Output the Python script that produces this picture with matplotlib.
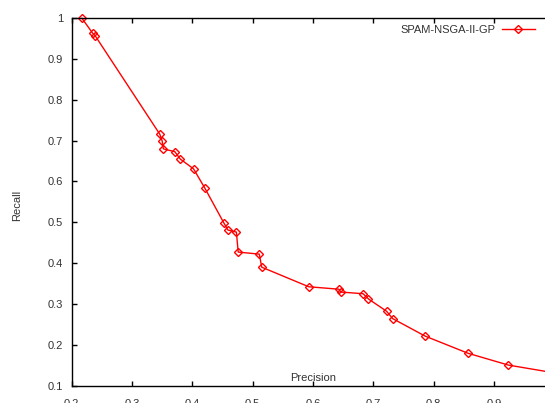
import matplotlib
matplotlib.use('Agg')
import matplotlib.pyplot as plt
from matplotlib.ticker import FormatStrFormatter, MultipleLocator

plt.rcParams['font.family'] = ['Liberation Sans', 'DejaVu Sans']

# Precision / Recall
precision = [0.217, 0.235, 0.239, 0.346, 0.350, 0.352, 0.371, 0.380, 0.402,
             0.421, 0.452, 0.459, 0.473, 0.476, 0.511, 0.515, 0.593, 0.643,
             0.646, 0.683, 0.692, 0.722, 0.732, 0.786, 0.857, 0.924, 1.0]
recall = [1.0, 0.963, 0.957, 0.716, 0.699, 0.680, 0.673, 0.655, 0.631,
          0.583, 0.499, 0.481, 0.476, 0.427, 0.422, 0.390, 0.342, 0.336,
          0.329, 0.325, 0.312, 0.282, 0.264, 0.221, 0.179, 0.150, 0.131]
series_name = 'SPAM-NSGA-II-GP'

fig = plt.figure(figsize=(5.45, 4.03), dpi=100)
# axes run past the right edge of the picture, like the cropped original
ax = fig.add_axes([71.7 / 545, 17.5 / 403, 482.6 / 545, 367.2 / 403])

ax.plot(precision, recall, color='#ff0000', lw=1.0, marker='D', ms=3.6,
        mfc='none', mec='#ff0000', mew=1.0, label=series_name, clip_on=False)

ax.set_xlim(0.2, 1.0)
ax.set_ylim(0.1, 1.0)
ax.xaxis.set_major_locator(MultipleLocator(0.1))
ax.yaxis.set_major_locator(MultipleLocator(0.1))
ax.xaxis.set_major_formatter(FormatStrFormatter('%g'))
ax.yaxis.set_major_formatter(FormatStrFormatter('%g'))
ax.tick_params(direction='in', length=3.5, width=1.0, labelsize=8,
               colors='black', labelcolor='#333333', top=True, right=True)
ax.tick_params(axis='x', pad=10)
ax.tick_params(axis='y', pad=6)
for s in ax.spines.values():
    s.set_linewidth(1.0)

fig.text(17 / 545, 1 - 205 / 403, 'Recall', rotation=90, ha='center',
         va='center', fontsize=8, color='#333333')
fig.text(313 / 545, 1 - 378 / 403, 'Precision', ha='center', va='center',
         fontsize=8, color='#333333')

leg = ax.legend(loc='upper right', bbox_to_anchor=(535 / 545, 1 - 25 / 403),
                bbox_transform=fig.transFigure, frameon=False, markerfirst=False,
                fontsize=8, handlelength=3.0, handletextpad=0.6,
                borderaxespad=0, borderpad=0)
for t in leg.get_texts():
    t.set_color('#333333')

fig.savefig('out.png', dpi=100)
